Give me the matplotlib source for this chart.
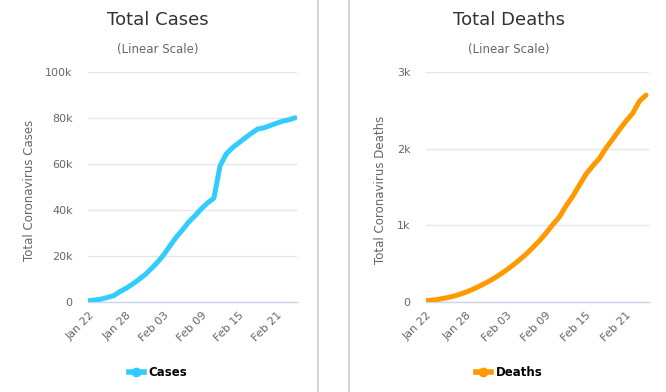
import matplotlib
matplotlib.use("Agg")
import matplotlib.pyplot as plt
from matplotlib.lines import Line2D

# data: Jan 22 .. Feb 24
dates = ["Jan 22", "Jan 23", "Jan 24", "Jan 25", "Jan 26", "Jan 27", "Jan 28",
         "Jan 29", "Jan 30", "Jan 31", "Feb 01", "Feb 02", "Feb 03", "Feb 04",
         "Feb 05", "Feb 06", "Feb 07", "Feb 08", "Feb 09", "Feb 10", "Feb 11",
         "Feb 12", "Feb 13", "Feb 14", "Feb 15", "Feb 16", "Feb 17", "Feb 18",
         "Feb 19", "Feb 20", "Feb 21", "Feb 22", "Feb 23", "Feb 24"]
cases = [580, 845, 1317, 2015, 2800, 4581, 6058, 7813, 9823, 11950, 14553,
         17391, 20630, 24545, 28266, 31439, 34876, 37552, 40553, 43099, 45134,
         59287, 64438, 67100, 69197, 71329, 73332, 75184, 75700, 76677, 77673,
         78651, 79205, 80087]
deaths = [17, 25, 38, 54, 74, 100, 130, 166, 207, 252, 300, 355, 415, 480, 550,
          625, 710, 800, 900, 1010, 1110, 1255, 1380, 1526, 1669, 1775, 1873,
          2009, 2126, 2247, 2360, 2460, 2618, 2699]

cases_ticks = [0, 20000, 40000, 60000, 80000, 100000]
cases_ticklabels = ["0", "20k", "40k", "60k", "80k", "100k"]
deaths_ticks = [0, 1000, 2000, 3000]
deaths_ticklabels = ["0", "1k", "2k", "3k"]

W, H = 666, 392
FONT = "DejaVu Sans"
plt.rcParams["font.family"] = FONT

fig = plt.figure(figsize=(W / 100, H / 100), dpi=100)


def px_rect(x0, x1, ytop, ybot):
    return [x0 / W, (H - ybot) / H, (x1 - x0) / W, (ybot - ytop) / H]


def draw_panel(rect, xlim, values, ticks, ticklabels, ymax, color,
               ylabel, title, name, cx, ylabel_x):
    ax = fig.add_axes(rect)
    x = list(range(len(values)))
    ax.plot(x, values, color=color, lw=3.6, solid_capstyle="round",
            solid_joinstyle="round", zorder=3)
    ax.set_xlim(*xlim)
    ax.set_ylim(0, ymax)
    ax.set_yticks(ticks)
    ax.set_yticklabels(ticklabels)
    ax.set_xticks(x[::6])
    ax.set_xticklabels(dates[::6], rotation=45, ha="right",
                       rotation_mode="anchor")
    ax.tick_params(axis="both", length=0, labelsize=8, labelcolor="#666666")
    ax.tick_params(axis="y", pad=11)
    ax.tick_params(axis="x", pad=6)
    for s in ["top", "right", "left"]:
        ax.spines[s].set_visible(False)
    ax.spines["bottom"].set_color("#ccd6eb")
    ax.spines["bottom"].set_linewidth(1)
    ax.grid(axis="y", color="#e6e6e6", lw=1)
    ax.set_axisbelow(True)
    fig.text(ylabel_x / W, 1 - 190 / H, ylabel, rotation=90, ha="center",
             va="center", fontsize=8.5, color="#666666")
    fig.text(cx / W, 1 - 20 / H, title, ha="center", va="center",
             fontsize=13, color="#333333")
    fig.text(cx / W, 1 - 50 / H, "(Linear Scale)", ha="center", va="center",
             fontsize=8.5, color="#666666")
    handle = Line2D([], [], color=color, lw=4, marker="o", markersize=6)
    fig.legend([handle], [name], loc="center", bbox_to_anchor=(cx / W, 1 - 373 / H),
               frameon=False, handlelength=1.3, handletextpad=0.4,
               prop={"weight": "bold", "size": 8.5})
    return ax


draw_panel(px_rect(88, 297, 72, 302), (-0.16, 33.32), cases, cases_ticks,
           cases_ticklabels, 100000, "#33ccff", "Total Coronavirus Cases",
           "Total Cases", "Cases", 158, 30)
draw_panel(px_rect(426, 649, 72, 302), (-0.05, 33.45), deaths, deaths_ticks,
           deaths_ticklabels, 3000, "#ff9900", "Total Coronavirus Deaths",
           "Total Deaths", "Deaths", 509, 381)

# panel separators
for xs in (318, 349):
    fig.add_artist(Line2D([xs / W, xs / W], [0, 1], color="#cccccc", lw=1.2))

fig.savefig("out.png", dpi=100, facecolor="white")
